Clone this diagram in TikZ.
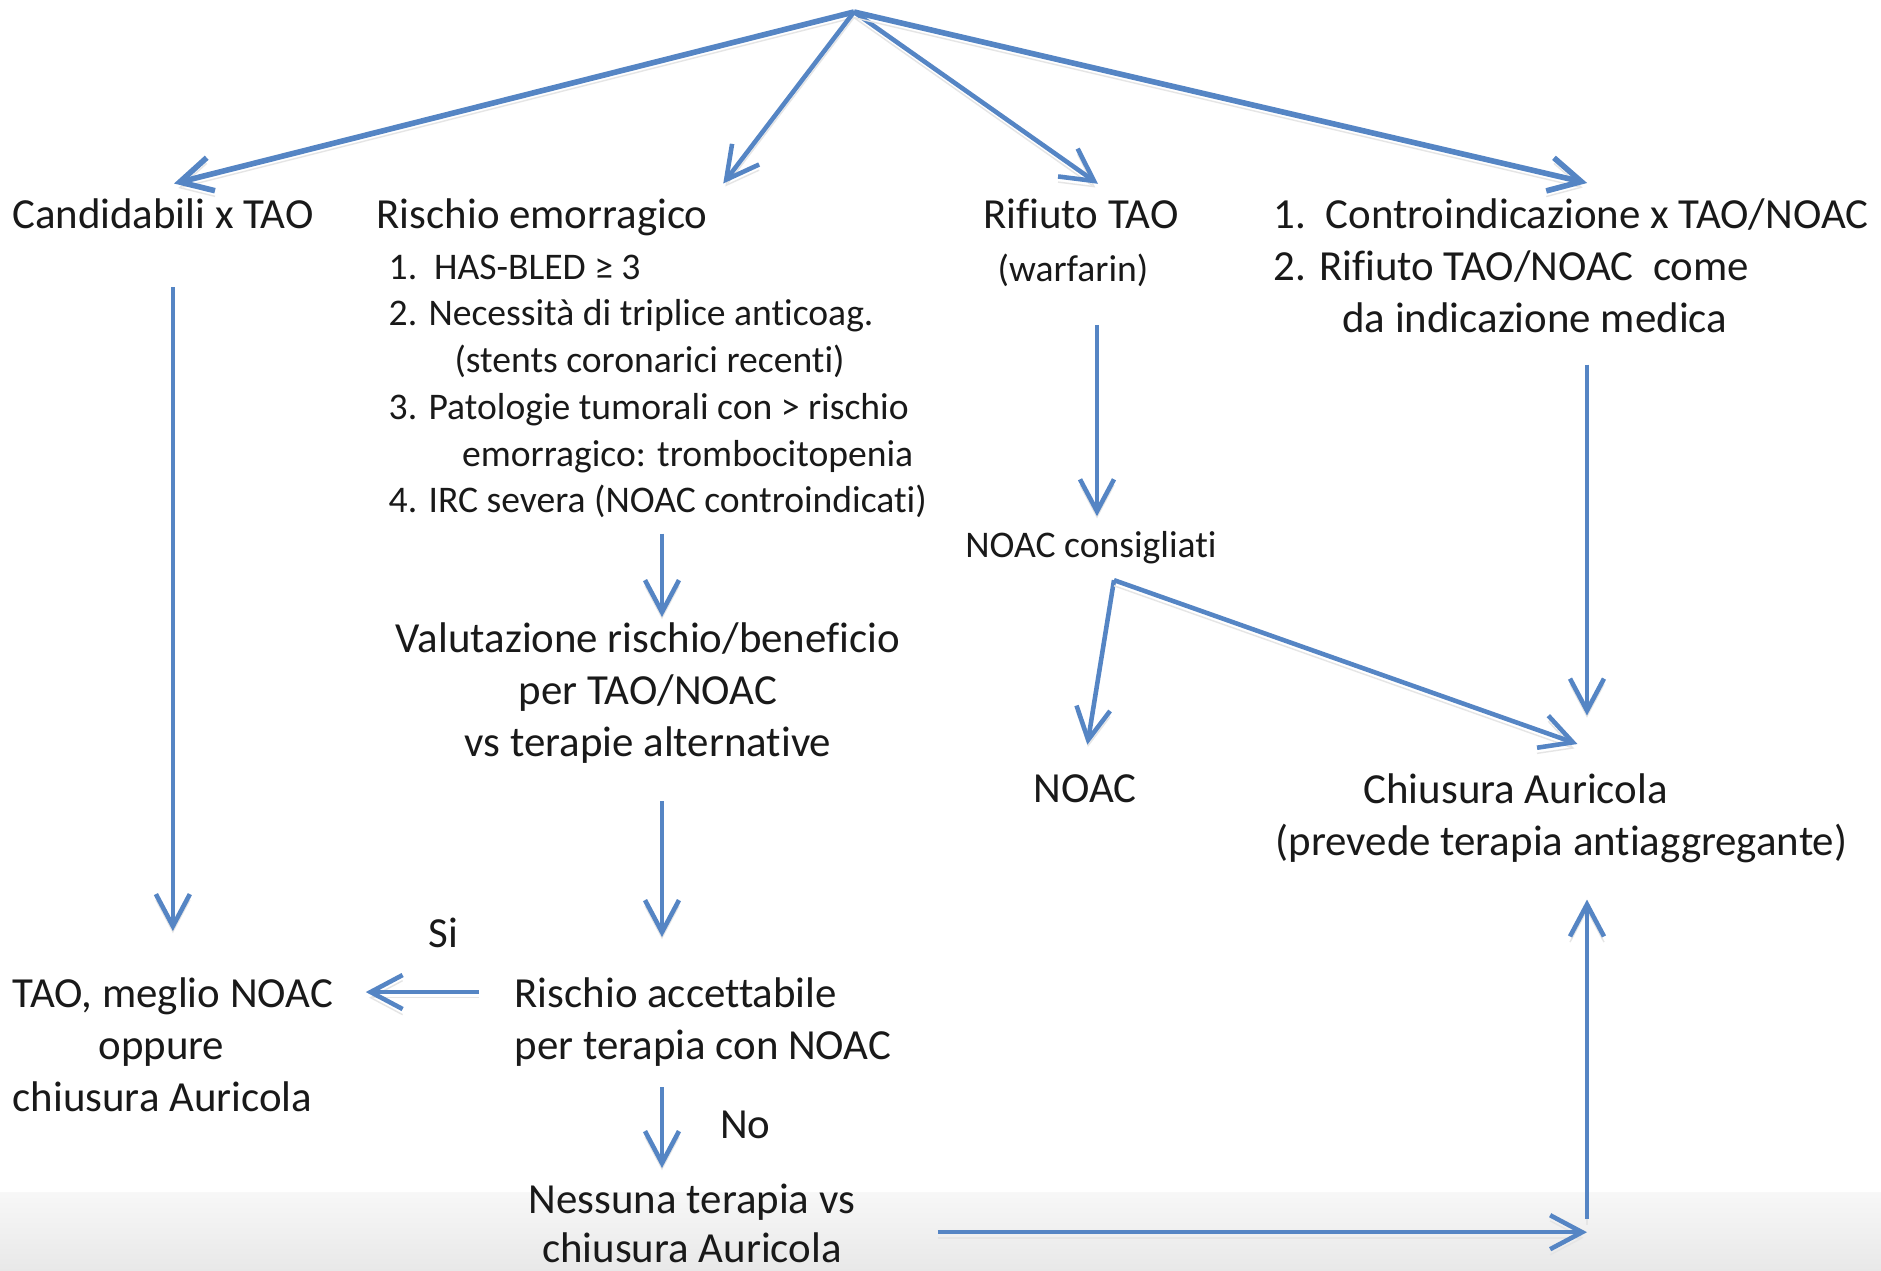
\documentclass[tikz,border=0pt]{standalone}
\usepackage{fontspec}
\setmainfont{Carlito}[Ligatures=NoCommon]
\usetikzlibrary{arrows.meta,positioning}
\definecolor{pptblue}{HTML}{5585C4}
\tikzset{
  >={Straight Barb[length=3.2mm,width=3.4mm]},
  % testi
  tx/.style={inner sep=1.5mm,text=black!90,
             font=\fontsize{12.2pt}{14.8pt}\selectfont},
  txs/.style={inner sep=1.5mm,text=black!90,
              font=\fontsize{10.7pt}{13.3pt}\selectfont},
  lb/.style={inner sep=0pt,text=black!90,
             font=\fontsize{12.2pt}{14.8pt}\selectfont},
  % frecce
  fr/.style={->,draw=pptblue,line width=1.3pt,
             preaction={draw=black!10,transform canvas={yshift=-1.6pt}}},
  frg/.style={fr,line width=1.6pt},
}

\begin{document}
\begin{tikzpicture}
  \useasboundingbox (0,0) rectangle (18.81,-12.71);
  \fill[white] (0,0) rectangle (18.81,-12.71);
  \shade[top color=black!3,bottom color=black!9] (0,-11.93) rectangle (18.81,-12.71);

  % prima riga
  \coordinate (top) at (8.54,-0.12);
  \node[tx,anchor=base] (cand) at (1.63,-2.29) {Candidabili x TAO};
  \node[tx,anchor=base west] (emo) at (3.61,-2.29) {Rischio emorragico};
  \node[tx,anchor=base] (rif) at (10.81,-2.29) {Rifiuto TAO};
  \node[tx,anchor=north west,align=left] (contro) at (12.58,-1.83)
    {1.\ \ Controindicazione x TAO/NOAC\\
     2. Rifiuto TAO/NOAC\ \ come\\
     \hspace*{1.6em}da indicazione medica};

  % sotto-voci
  \node[txs,anchor=north west,align=left] (elenco) at (3.73,-2.39)
    {1.\ \ HAS-BLED ≥ 3\\
     2. Necessità di triplice anticoag.\\
     \hspace*{1.75em}(stents coronarici recenti)\\
     3. Patologie tumorali con > rischio\\
     \hspace*{1.95em}emorragico: trombocitopenia\\
     4. IRC severa (NOAC controindicati)};
  \node[txs,anchor=base] (warf) at (10.73,-2.82) {(warfarin)};
  \node[txs,anchor=base] (cons) at (10.91,-5.58) {NOAC consigliati};

  \node[tx,anchor=north,align=center] (valut) at (6.48,-6.07)
    {Valutazione rischio/beneficio\\per TAO/NOAC\\vs terapie alternative};
  \node[tx,anchor=base] (noac) at (10.85,-8.03) {NOAC};
  \node[tx,anchor=north west,align=left] (chiu) at (12.60,-7.58)
    {\hspace*{2.05em}Chiusura Auricola\\(prevede terapia antiaggregante)};

  \node[tx,anchor=north west,align=left] (tao) at (-0.03,-9.62)
    {TAO, meglio NOAC\\\hspace*{2em}oppure\\chiusura Auricola};
  \node[tx,anchor=north west,align=left] (acc) at (4.99,-9.62)
    {Rischio accettabile\\per terapia con NOAC};
  \node[tx,anchor=north,align=center,
        font=\fontsize{12.2pt}{14pt}\selectfont] (nessuna) at (6.92,-11.68)
    {Nessuna terapia vs\\chiusura Auricola};

  % assi verticali e punti di snodo
  \coordinate (asse) at (6.62,0);
  \coordinate (colonna) at (15.87,0);
  \coordinate (rifax) at ([xshift=2.4mm]warf.south);
  \coordinate (bivio) at ([xshift=2.3mm]cons.south);
  \coordinate (si) at ([yshift=3mm]acc.west);
  \coordinate (basso) at ([yshift=-0.9mm]nessuna.east);
  \coordinate (angolo) at (basso -| colonna);

  % ventaglio
  \draw[frg] (top) -- ([xshift=1.1mm]cand.north);
  \draw[fr] (top) -- (emo.north east);
  \draw[fr] (top) -- ([xshift=1.7mm]rif.north);
  \draw[frg] (top) -- ([xshift=1.6mm]contro.north);

  % sinistra
  \draw[fr,shorten <=4.2mm,shorten >=3.1mm] (cand.south -| tao.north) -- (tao.north);

  % centro
  \draw[fr,shorten >=-1mm] (asse |- elenco.south) -- (asse |- valut.north);
  \draw[fr,shorten <=2.2mm,shorten >=2.5mm] (asse |- valut.south) -- (asse |- acc.north);
  \draw[fr,shorten <=2mm,shorten >=1.7mm] (si) -- node[lb,pos=0.37,above=4.2mm] {Si} (si -| tao.east);
  \draw[fr,shorten <=0.5mm] (asse |- acc.south) -- node[lb,right=5.6mm] {No} (asse |- nessuna.north);

  % rifiuto
  \draw[fr,shorten <=2.2mm] (rifax) -- (rifax |- cons.north);
  \draw[fr,shorten >=1.5mm] (bivio) -- (noac.north);
  \draw[fr] (bivio) -- ([xshift=1.6mm,yshift=1.4mm]chiu.north);

  % destra
  \draw[fr,shorten <=1.6mm,shorten >=4.25mm] (colonna |- contro.south) -- (colonna |- chiu.north);
  \draw[fr,shorten <=6.7mm] (basso) -- (angolo);
  \draw[fr,shorten <=1.3mm,shorten >=2.1mm] (angolo) -- (colonna |- chiu.south);
\end{tikzpicture}
\end{document}
